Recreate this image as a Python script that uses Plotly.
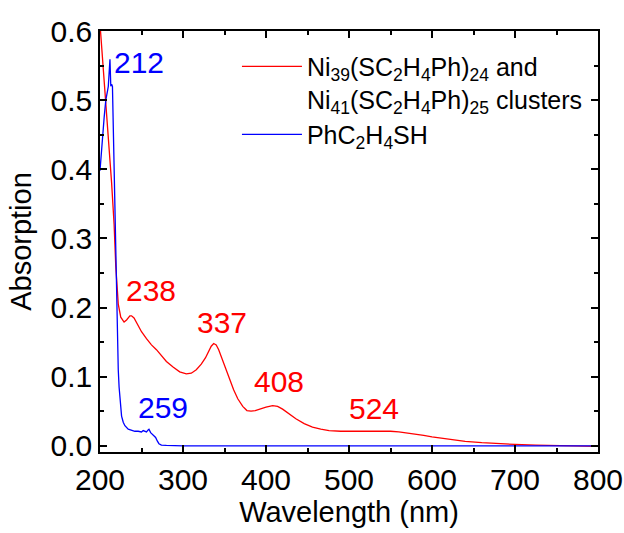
import plotly.graph_objects as go

# Ni39/Ni41 clusters (red)
red_wl = [200, 205, 210, 214, 217, 219, 222, 225, 229, 232, 236, 238, 241, 245, 250, 256,
          262, 268, 274, 280, 288, 296, 304, 310, 316, 322, 327, 331, 334, 337, 340, 343,
          347, 351, 356, 361, 366, 372, 377, 382, 387, 392, 400, 408, 414, 420, 428, 436,
          446, 456, 466, 476, 490, 505, 520, 535, 550, 560, 575, 590, 600, 620, 640, 660,
          680, 700, 725, 750, 775, 800]
red_abs = [0.61, 0.53, 0.45, 0.38, 0.32, 0.26, 0.205, 0.186, 0.179, 0.182, 0.188, 0.188,
           0.185, 0.176, 0.165, 0.155, 0.146, 0.139, 0.130, 0.122, 0.114, 0.107, 0.104,
           0.105, 0.110, 0.118, 0.127, 0.137, 0.144, 0.148, 0.146, 0.139, 0.126, 0.112,
           0.096, 0.081, 0.068, 0.057, 0.051, 0.050, 0.051, 0.053, 0.056, 0.058, 0.057,
           0.053, 0.046, 0.039, 0.032, 0.027, 0.024, 0.022, 0.021, 0.021, 0.022, 0.022,
           0.021, 0.020, 0.018, 0.015, 0.013, 0.0095, 0.0065, 0.0045, 0.003, 0.002,
           0.001, 0.0005, 0.0, -0.001]

# PhC2H4SH (blue)
blue_wl = [200, 202, 203, 205, 207, 208, 209, 210, 211, 212, 213, 214, 215, 216, 217, 218,
           219, 220, 221, 222, 223, 224, 225, 226, 228, 230, 234, 238, 242, 246, 250, 252,
           254, 256, 258, 259, 261, 263, 265, 267, 269, 271, 274, 280, 300, 350, 400, 450,
           500, 550, 600, 650, 700, 750, 800]
blue_abs = [0.398, 0.43, 0.455, 0.475, 0.50, 0.505, 0.513, 0.52, 0.54, 0.559, 0.52, 0.523,
            0.52, 0.46, 0.40, 0.33, 0.25, 0.19, 0.14, 0.11, 0.085, 0.066, 0.053, 0.043,
            0.034, 0.029, 0.024, 0.022, 0.021, 0.021, 0.020, 0.022, 0.021, 0.020, 0.023,
            0.024, 0.019, 0.017, 0.015, 0.012, 0.007, 0.003, 0.001, 0.0005, 0.0, 0.0, 0.0,
            0.0, 0.0, 0.0, 0.0, 0.0, 0.0, 0.0, 0.0]

red_name = "Ni<sub>39</sub>(SC<sub>2</sub>H<sub>4</sub>Ph)<sub>24</sub> and<br>Ni<sub>41</sub>(SC<sub>2</sub>H<sub>4</sub>Ph)<sub>25</sub> clusters"
blue_name = "PhC<sub>2</sub>H<sub>4</sub>SH"

peak_labels = ["212", "238", "337", "408", "259", "524"]
peak_x = [247, 261, 347, 416, 275.5, 530]
peak_y = [0.555, 0.225, 0.179, 0.0925, 0.056, 0.054]
peak_colors = ["#0000FF", "#FF0000", "#FF0000", "#FF0000", "#0000FF", "#FF0000"]

FONT = "Liberation Sans, Arial, sans-serif"

fig = go.Figure()
fig.add_trace(go.Scatter(x=red_wl, y=red_abs, mode="lines", name=red_name,
                         line=dict(color="#FF0000", width=1.3)))
fig.add_trace(go.Scatter(x=blue_wl, y=blue_abs, mode="lines", name=blue_name,
                         line=dict(color="#0000FF", width=1.3)))

for t, x, y, c in zip(peak_labels, peak_x, peak_y, peak_colors):
    fig.add_annotation(x=x, y=y, xref="x", yref="y", text=t, showarrow=False,
                       xanchor="center", yanchor="middle",
                       font=dict(family=FONT, size=30, color=c))

axis_common = dict(showline=True, linecolor="black", linewidth=1.5, mirror="ticks",
                   ticks="inside", ticklen=7, tickwidth=1.5, tickcolor="black",
                   showgrid=False, zeroline=False, automargin=False,
                   tickfont=dict(family=FONT, size=30, color="black"))

fig.update_xaxes(range=[200, 800], dtick=100, tick0=200,
                 minor=dict(dtick=50, ticks="inside", ticklen=4, tickwidth=1.5, tickcolor="black"),
                 title=dict(text="Wavelength (nm)", standoff=6,
                            font=dict(family=FONT, size=29, color="black")),
                 **axis_common)
fig.update_yaxes(range=[-0.009, 0.6], dtick=0.1, tick0=0, tickformat=".1f",
                 minor=dict(dtick=0.05, ticks="inside", ticklen=4, tickwidth=1.5, tickcolor="black"),
                 title=dict(text="Absorption", standoff=10,
                            font=dict(family=FONT, size=29, color="black")),
                 **axis_common)

fig.update_layout(
    width=624, height=533,
    margin=dict(l=100, r=26, t=31, b=81),
    plot_bgcolor="white", paper_bgcolor="white",
    font=dict(family=FONT, color="black"),
    legend=dict(x=0.275, y=0.970, xanchor="left", yanchor="top",
                bgcolor="rgba(0,0,0,0)", borderwidth=0,
                font=dict(family=FONT, size=25, color="black"),
                itemwidth=60, valign="top", tracegroupgap=0),
)

fig.write_html("out.html")
